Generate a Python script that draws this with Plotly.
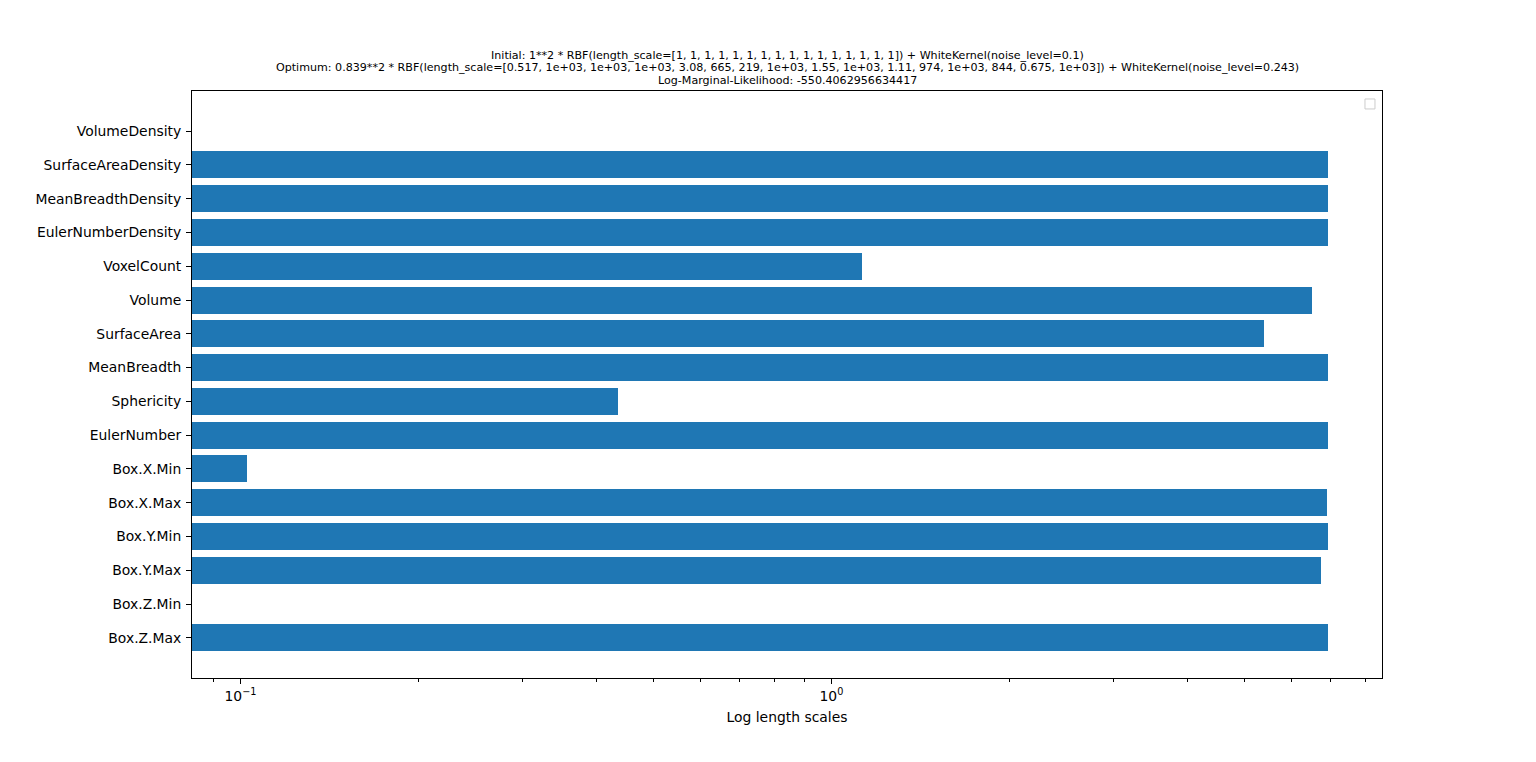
import plotly.graph_objects as go

# Features listed top to bottom, as shown
features = ["VolumeDensity", "SurfaceAreaDensity", "MeanBreadthDensity", "EulerNumberDensity",
            "VoxelCount", "Volume", "SurfaceArea", "MeanBreadth", "Sphericity", "EulerNumber",
            "Box.X.Min", "Box.X.Max", "Box.Y.Min", "Box.Y.Max", "Box.Z.Min", "Box.Z.Max"]
# natural log of the optimised length scales
log_length_scales = [-0.660, 6.908, 6.908, 6.908, 1.125, 6.500, 5.389, 6.908, 0.435, 6.908,
                     0.1025, 6.881, 6.908, 6.738, -0.393, 6.908]

title_lines = [
    "Initial: 1**2 * RBF(length_scale=[1, 1, 1, 1, 1, 1, 1, 1, 1, 1, 1, 1, 1, 1, 1, 1]) + WhiteKernel(noise_level=0.1)",
    "Optimum: 0.839**2 * RBF(length_scale=[0.517, 1e+03, 1e+03, 1e+03, 3.08, 665, 219, 1e+03, 1.55, 1e+03, 1.11, 974, 1e+03, 844, 0.675, 1e+03]) + WhiteKernel(noise_level=0.243)",
    "Log-Marginal-Likelihood: -550.4062956634417",
]

major_ticks = [0.1, 1]
major_labels = ["10<sup>\u22121</sup>", "10<sup>0</sup>"]
minor_ticks = [0.09, 0.2, 0.3, 0.4, 0.5, 0.6, 0.7, 0.8, 0.9, 2, 3, 4, 5, 6, 7, 8]

FONT = "DejaVu Sans"
TICK = 13.9

fig = go.Figure()
fig.add_trace(go.Bar(
    x=log_length_scales, y=features, orientation="h", width=0.8,
    marker=dict(color="#1f77b4", line=dict(width=0)), showlegend=False,
))

fig.update_layout(
    width=1536, height=762,
    margin=dict(l=184, r=162, t=83, b=92),
    plot_bgcolor="white", paper_bgcolor="white",
    font=dict(family=FONT, size=TICK, color="black"),
    bargap=0,
    xaxis=dict(
        type="log", range=[-1.082, 0.9315],
        showgrid=False, zeroline=False,
        showline=True, linecolor="black", linewidth=1, mirror=True,
        ticks="outside", ticklen=5, tickwidth=1, tickcolor="black",
        tickmode="array", tickvals=major_ticks, ticktext=major_labels,
        minor=dict(tickmode="array", tickvals=minor_ticks, ticks="outside",
                   ticklen=3, tickwidth=0.8, tickcolor="black", showgrid=False),
        title=dict(text="Log length scales", standoff=9, font=dict(size=TICK)),
        tickfont=dict(size=TICK),
    ),
    yaxis=dict(
        type="category", categoryorder="array", categoryarray=features[::-1],
        range=[-1.19, 16.19],
        showgrid=False, zeroline=False,
        showline=True, linecolor="black", linewidth=1, mirror=True,
        ticks="outside", ticklen=5, tickwidth=1, tickcolor="black",
        ticklabelstandoff=2,
        tickfont=dict(size=TICK),
    ),
)

for line, shift in zip(title_lines, [36, 23.5, 11]):
    fig.add_annotation(
        text=line, xref="paper", yref="paper", x=0.5, y=1,
        xanchor="center", yanchor="middle", yshift=shift, showarrow=False,
        font=dict(family=FONT, size=11.1, color="black"), align="center",
    )

# empty legend box (top-right)
fig.add_shape(type="rect", xref="paper", yref="paper",
              x0=0.9857, x1=0.9941, y0=0.9694, y1=0.9864,
              line=dict(color="#cccccc", width=1), fillcolor="white")

fig.write_html("out.html")
